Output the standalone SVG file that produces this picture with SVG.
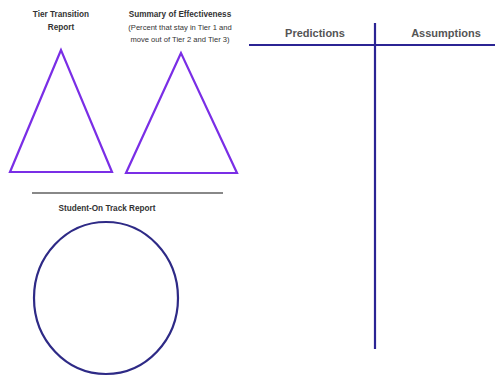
<svg xmlns="http://www.w3.org/2000/svg" width="495" height="377" viewBox="0 0 495 377">
<style>
text{font-family:"Liberation Sans",Arial,sans-serif;fill:#333;text-anchor:middle}
.t{font-size:8.2px;font-weight:bold}
.s{font-size:7.6px}
.h{font-size:11px;fill:#555;font-weight:bold}
.tri{fill:none;stroke:#7a2ee6;stroke-width:2.2;stroke-linejoin:miter}
.ln{stroke:#2b2494;stroke-width:2.2}
</style>
<rect width="495" height="377" fill="#fff"/>
<g id="tier-transition">
<text class="t" x="61" y="17">Tier Transition</text>
<text class="t" x="61" y="30">Report</text>
<polygon class="tri" points="61,50 10,172 112,172"/>
</g>
<g id="summary">
<text class="t" x="180" y="17">Summary of Effectiveness</text>
<text class="s" x="180" y="30">(Percent that stay in Tier 1 and</text>
<text class="s" x="180" y="42">move out of Tier 2 and Tier 3)</text>
<polygon class="tri" points="181,53 126,173 237,173"/>
</g>
<g id="divider">
<line x1="32" y1="193" x2="223" y2="193" stroke="#888" stroke-width="2"/>
</g>
<g id="on-track">
<text class="t" x="107" y="211">Student-On Track Report</text>
<ellipse cx="106" cy="298" rx="72" ry="76" fill="none" stroke="#2e2a86" stroke-width="2.2"/>
</g>
<g id="connectors">
<line class="ln" x1="249" y1="45" x2="495" y2="45"/>
<line class="ln" x1="375" y1="23" x2="375" y2="349"/>
</g>
<g id="headers">
<text class="h" x="315" y="37">Predictions</text>
<text class="h" x="446" y="37">Assumptions</text>
</g>
</svg>
